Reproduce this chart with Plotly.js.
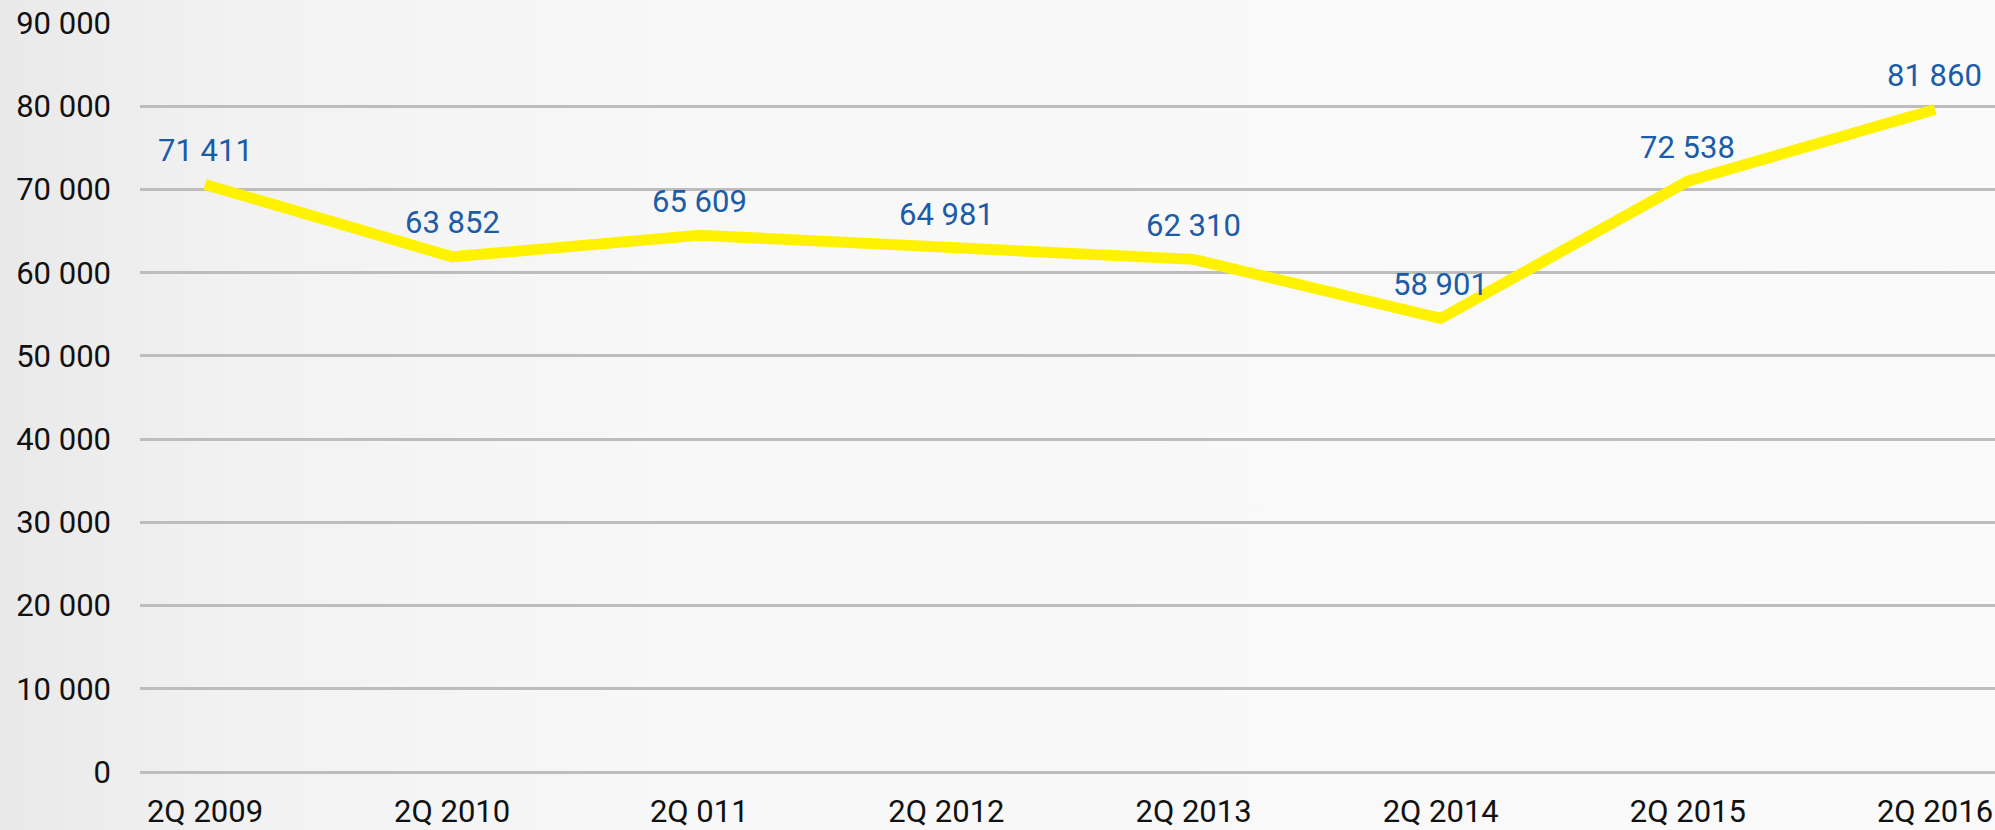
<!DOCTYPE html>
<html>
<head>
<meta charset="utf-8">
<script src="https://cdn.plot.ly/plotly-3.0.1.min.js"></script>
<style>
  html, body { margin: 0; padding: 0; }
  body { width: 1995px; height: 830px; overflow: hidden;
         background: linear-gradient(90deg, #e9e9e9 0%, #f2f2f2 12%, #f8f8f8 35%, #fafafa 100%); }
  #chart { width: 1995px; height: 830px; }
</style>
</head>
<body>
<div id="chart"></div>
<script>
// Quarters (category labels)
const categories = ["2Q 2009", "2Q 2010", "2Q 011", "2Q 2012", "2Q 2013", "2Q 2014", "2Q 2015", "2Q 2016"];
// Line values as drawn in the picture
const values = [70600, 61900, 64500, 62900, 61600, 54500, 71000, 79600];
// Printed data labels
const labels = ["71 411", "63 852", "65 609", "64 981", "62 310", "58 901", "72 538", "81 860"];
// Y axis ticks
const yTicks = [0, 10000, 20000, 30000, 40000, 50000, 60000, 70000, 80000, 90000];

const FONT = "Roboto, Noto Sans, sans-serif";

const trace = {
  type: "scatter",
  mode: "lines",
  x: categories,
  y: values,
  line: { color: "#FFF200", width: 11 },
  hoverinfo: "x+y"
};

const annotations = categories.map((c, i) => ({
  x: c, y: values[i], xref: "x", yref: "y",
  text: labels[i], showarrow: false,
  yshift: 34,
  font: { family: FONT, size: 31, color: "#1A5CA8" }
}));

const layout = {
  width: 1995, height: 830,
  margin: { l: 140, r: 0, t: 23, b: 58, pad: 0 },
  paper_bgcolor: "rgba(0,0,0,0)",
  plot_bgcolor: "rgba(0,0,0,0)",
  separators: ", ",
  showlegend: false,
  font: { family: FONT, size: 31, color: "#111111" },
  xaxis: {
    type: "category",
    range: [-0.263, 7.2428],
    showgrid: false, zeroline: false, showline: false,
    ticks: "",
    ticklabelstandoff: 18,
    tickfont: { family: FONT, size: 31, color: "#111111" },
    fixedrange: true
  },
  yaxis: {
    range: [0, 90000],
    tickvals: yTicks,
    tickformat: ",d",
    showgrid: true, gridcolor: "#BDBDBD", gridwidth: 3,
    zeroline: true, zerolinecolor: "#BDBDBD", zerolinewidth: 3,
    showline: false, ticks: "",
    ticklabelstandoff: 28,
    tickfont: { family: FONT, size: 31, color: "#111111" },
    fixedrange: true
  },
  annotations: annotations
};

Plotly.newPlot("chart", [trace], layout, { displayModeBar: false, staticPlot: true });
</script>
</body>
</html>
